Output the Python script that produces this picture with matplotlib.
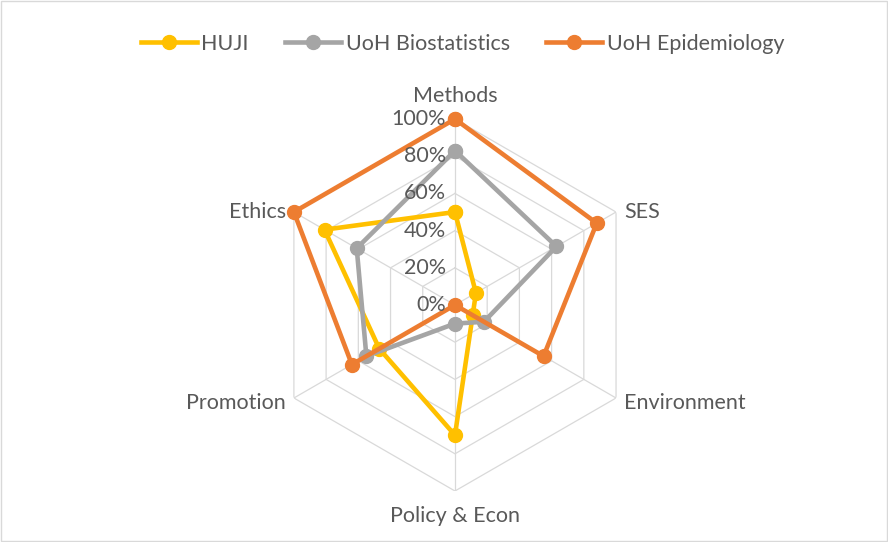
import numpy as np
import matplotlib
matplotlib.use("Agg")
from matplotlib import pyplot as plt

categories = ["Methods", "SES", "Environment", "Policy & Econ", "Promotion", "Ethics"]
series_names = ["HUJI", "UoH Biostatistics", "UoH Epidemiology"]
huji = [50, 13, 11, 70, 47, 81]
uoh_biostat = [83, 63, 18, 10, 55, 61]
uoh_epi = [100, 88, 55, 0, 64, 100]
levels = [0, 20, 40, 60, 80, 100]

colors = ["#FFC000", "#A5A5A5", "#ED7D31"]
text_color = "#595959"
grid_color = "#D9D9D9"
fs = 15.5

plt.rcParams["font.family"] = ["Lato", "DejaVu Sans"]

fig = plt.figure(figsize=(8.88, 5.42), dpi=100)
ax = fig.add_axes([0.3029, 0.0941, 0.4189, 0.6863], projection="polar")
ax.set_theta_offset(np.pi / 2)
ax.set_theta_direction(-1)

n = len(categories)
angles = np.linspace(0, 2 * np.pi, n, endpoint=False)
closed = np.append(angles, angles[0])

# hexagon grid + spokes
ax.grid(False)
ax.spines["polar"].set_visible(False)
ax.set_xticks([])
ax.set_yticks([])
for lv in levels[1:]:
    ax.plot(closed, [lv] * (n + 1), color=grid_color, lw=0.9, zorder=1)
for a in angles:
    ax.plot([a, a], [0, 100], color=grid_color, lw=0.9, zorder=1)
ax.set_ylim(0, 100)

for vals, name, c in zip([huji, uoh_biostat, uoh_epi], series_names, colors):
    v = np.append(vals, vals[0])
    ax.plot(closed, v, color=c, lw=3.3, marker="o", markersize=10,
            label=name, zorder=3, solid_joinstyle="round", clip_on=False)

# radial tick labels along Methods axis
for lv in levels:
    ax.annotate(f"{lv}%", xy=(0, lv), xytext=(-9, 0), textcoords="offset pixels",
                ha="right", va="center", fontsize=fs, color=text_color,
                annotation_clip=False)

# category labels (offsets in pixels, +y up)
offsets = [(0, 23, "center"), (8, 0, "left"), (8, -5, "left"),
           (0, -25, "center"), (-8, -5, "right"), (-8, 0, "right")]
for a, lab, (dx, dy, ha) in zip(angles, categories, offsets):
    ax.annotate(lab, xy=(a, 100), xytext=(dx, dy), textcoords="offset pixels",
                ha=ha, va="center", fontsize=fs, color=text_color,
                annotation_clip=False)

fig.legend(loc="center", bbox_to_anchor=(0.521, 1 - 44 / 542), ncol=3,
           frameon=False, fontsize=fs, handlelength=2.6, columnspacing=1.7,
           handletextpad=0.2, labelcolor=text_color)

fig.patches.append(plt.Rectangle((0.001, 0.001), 0.998, 0.998, transform=fig.transFigure,
                                 fill=False, edgecolor=grid_color, lw=1))

fig.savefig("out.png", dpi=100)
